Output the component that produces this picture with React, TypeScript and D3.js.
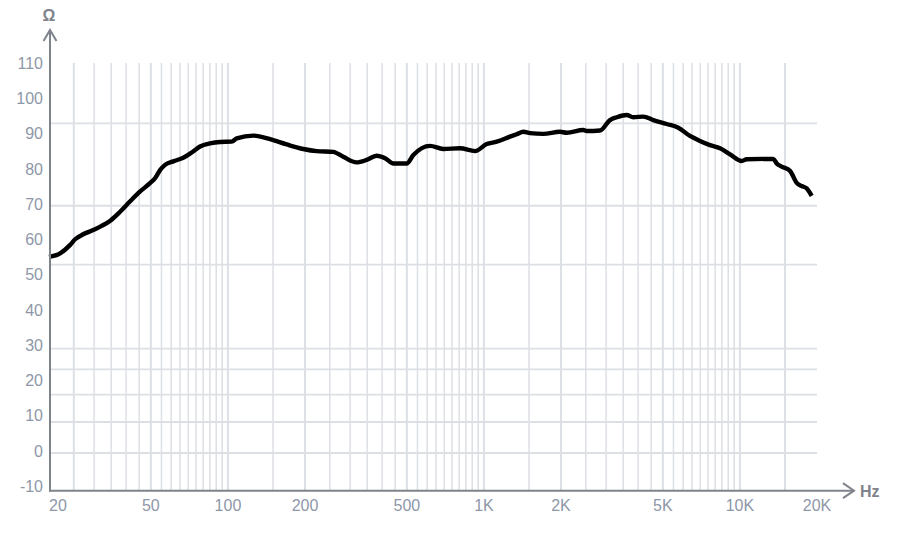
import React, { useLayoutEffect } from "react";
import * as d3 from "d3";

// Impedance curve: frequency (Hz) and impedance reading (Ω, on the axis' label scale)
const freqs = [
  20, 22.1, 24.2, 25.3, 27.2, 29.8, 32.1, 34.6, 37.9, 41.4, 45.3, 49.6, 51.9, 54.3, 56.8,
  61.2, 66.9, 72.2, 77.8, 85.1, 93.1, 103.4, 108.2, 125.6, 146, 169.6, 197, 222, 258, 282,
  318, 348, 381, 411, 443, 499, 530, 616, 694, 806, 923, 1025, 1122, 1264, 1343, 1425,
  1514, 1706, 1982, 2106, 2444, 2520, 2840, 3108, 3302, 3612, 3832, 4194, 4588, 5176,
  5744, 6382, 6982, 7638, 8358, 9146, 10160, 10628, 13500, 13920, 14560, 15688, 16660,
  17426, 18232, 19070,
];
const impedance = [
  55.0, 56.0, 58.4, 60.0, 61.4, 62.6, 63.8, 65.2, 67.8, 70.7, 73.5, 75.9, 77.3, 79.6, 81.1,
  82.1, 83.1, 84.6, 86.3, 87.2, 87.6, 87.7, 88.6, 89.4, 88.4, 86.9, 85.6, 85.0, 84.8, 83.4,
  81.8, 82.5, 83.7, 83.0, 81.5, 81.5, 83.9, 86.5, 85.6, 85.8, 85.0, 87.0, 87.7, 89.1, 89.8,
  90.5, 90.1, 89.9, 90.5, 90.2, 91.0, 90.7, 90.85, 93.8, 94.6, 95.25, 94.6, 94.8, 93.8, 92.7,
  91.65, 89.3, 87.9, 86.7, 85.8, 84.1, 82.2, 82.7, 82.8, 81.5, 80.6, 79.4, 76.0, 75.1, 74.45,
  72.3,
];

const yTickValues = [110, 100, 90, 80, 70, 60, 50, 40, 30, 20, 10, 0, -10];
const hGridValues = [92.9, 69.5, 52.8, 28.95, 23.1, 15.9, 8.16, -0.64];
const axisBaseValue = -11.33;

const xTickValues = [20, 50, 100, 200, 500, 1000, 2000, 5000, 10000, 20000];
const xTickLabels = ["20", "50", "100", "200", "500", "1K", "2K", "5K", "10K", "20K"];
const vGridValues = [
  25, 30, 35, 40, 45, 50, 55, 60, 65, 70, 75, 80, 85, 90, 95, 100,
  150, 200, 250, 300, 350, 400, 450, 500, 550, 600, 650, 700, 750, 800, 850, 900, 950, 1000,
  1500, 2000, 2500, 3000, 3500, 4000, 4500, 5000, 5500, 6000, 6500, 7000, 7500, 8000, 8500,
  9000, 9500, 10000, 15000,
];
const majorGrid = [25, 50, 100, 200, 500, 1000, 2000, 5000, 10000, 15000];

const W = 897;
const H = 542;

export default function App() {
  useLayoutEffect(() => {
    document.body.style.margin = "0";
  }, []);

  const x = d3.scaleLog().domain([20, 20000]).range([49, 817]);
  const y = d3.scaleLinear().domain([-10, 110]).range([486, 63]);

  const axisY = y(axisBaseValue);
  const axisX = 50;
  const topY = y(110);

  const points = freqs.map((f, i) => [f, impedance[i]] as [number, number]);
  const line = d3
    .line<[number, number]>()
    .x((d) => x(d[0]))
    .y((d) => y(d[1]))
    .curve(d3.curveMonotoneX);

  const gridColor = "#dcdfe4";
  const axisColor = "#7f838b";
  const labelColor = "#8e97a8";
  const font = "'Liberation Sans', Arial, Helvetica, sans-serif";

  return (
    <svg width={W} height={H} style={{ display: "block", background: "#fff" }} fontFamily={font}>
      {/* horizontal grid */}
      {hGridValues.map((v) => (
        <line key={"h" + v} x1={axisX} x2={817} y1={y(v)} y2={y(v)} stroke={gridColor} strokeWidth={1.8} />
      ))}
      {/* vertical grid */}
      {vGridValues.map((f) => (
        <line
          key={"v" + f}
          x1={x(f)}
          x2={x(f)}
          y1={topY}
          y2={axisY}
          stroke={gridColor}
          strokeWidth={majorGrid.includes(f) ? 2 : 1.5}
        />
      ))}

      {/* curve */}
      <path
        d={line(points) || ""}
        fill="none"
        stroke="#000"
        strokeWidth={4.4}
        strokeLinejoin="round"
        strokeLinecap="butt"
      />

      {/* axes */}
      <line x1={axisX} x2={axisX} y1={axisY + 1} y2={30} stroke={axisColor} strokeWidth={2} />
      <polyline
        points={`${axisX - 6.5},${41} ${axisX},${30} ${axisX + 6.5},${41}`}
        fill="none"
        stroke={axisColor}
        strokeWidth={2}
      />
      <line x1={axisX - 1} x2={854} y1={axisY} y2={axisY} stroke={axisColor} strokeWidth={2} />
      <polyline
        points={`${843},${axisY - 7.5} ${854},${axisY} ${843},${axisY + 7.5}`}
        fill="none"
        stroke={axisColor}
        strokeWidth={2}
      />

      {/* unit labels */}
      <text x={49} y={21} textAnchor="middle" fontSize={16} fontWeight="bold" fill={axisColor}>
        Ω
      </text>
      <text x={860} y={497} textAnchor="start" fontSize={16} fontWeight="bold" fill={axisColor}>
        Hz
      </text>

      {/* y tick labels */}
      {yTickValues.map((v) => (
        <text key={"yl" + v} x={43} y={y(v)} dy="0.36em" textAnchor="end" fontSize={16} fill={labelColor}>
          {v}
        </text>
      ))}

      {/* x tick labels */}
      {xTickValues.map((f, i) => (
        <text
          key={"xl" + f}
          x={i === 0 ? x(f) : x(f)}
          y={511}
          textAnchor={i === 0 ? "start" : "middle"}
          fontSize={16}
          fill={labelColor}
        >
          {xTickLabels[i]}
        </text>
      ))}
    </svg>
  );
}
